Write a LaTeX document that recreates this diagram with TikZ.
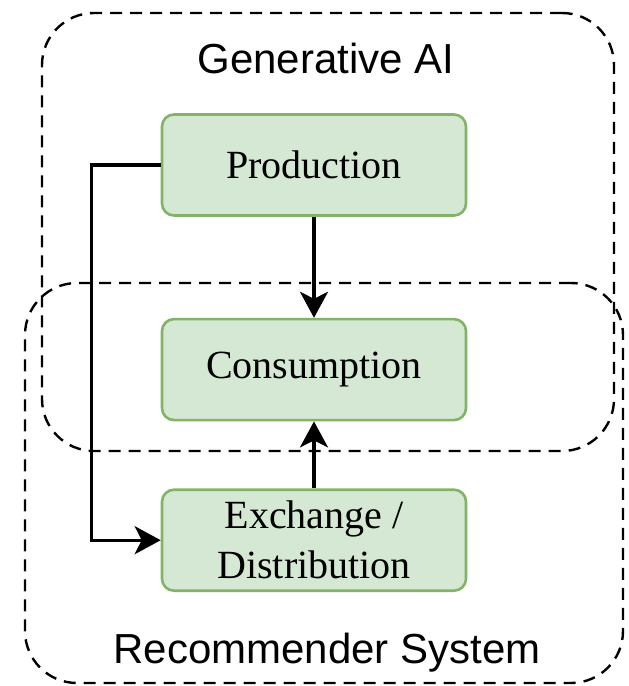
\documentclass[tikz,border=0pt]{standalone}
\usepackage{fontspec}
\setmainfont{Liberation Serif}
\setsansfont{Liberation Sans}
\usepackage{tikz}
\usetikzlibrary{fit, positioning, arrows.meta, backgrounds}
\definecolor{stagefill}{HTML}{D5E8D4}
\definecolor{stageline}{HTML}{82B366}

\begin{document}
\begin{tikzpicture}[x=0.5pt, y=-0.5pt,
            stage/.style={draw=stageline, line width=1.3pt, rounded corners=6pt, fill=stagefill, minimum width=152pt, minimum height=50.5pt, inner sep=0pt, font=\rmfamily\fontsize{20}{25}\selectfont},
            group/.style={draw, line width=1.2pt, dash pattern=on 6pt off 4pt, rounded corners=26pt, inner sep=0pt},
            title/.style={font=\sffamily\fontsize{21}{25}\selectfont},
            to/.style={-{Stealth[length=13pt,width=14pt,inset=3.5pt]}, line width=1.6pt},
            every node/.style={align=center}]
        \useasboundingbox (0,0) rectangle (628,686);

        \node[stage] (P) at (314,165) {Production};
        \node[stage, below=50.5pt of P] (C) {Consumption};
        \node[stage, below=33.5pt of C] (E) {Exchange /\\Distribution};

        \coordinate (ga1) at (42,13);
        \coordinate (ga2) at (614,451);
        \coordinate (rs1) at (25,283);
        \coordinate (rs2) at (623,683);
        \node[group, fit=(ga1) (ga2)] (GA) {};
        \node[title] (GAt) at (326,58) {Generative AI};
        \node[group, fit=(rs1) (rs2)] (RS) {};
        \node[title] (RSt) at (327,653) {Recommender System};

        \draw[to] (P) -- (C);
        \draw[to] (E) -- (C);
        \draw[to] (P.west) -- ++(-69,0) |- (E.west);
    \end{tikzpicture}
\end{document}
